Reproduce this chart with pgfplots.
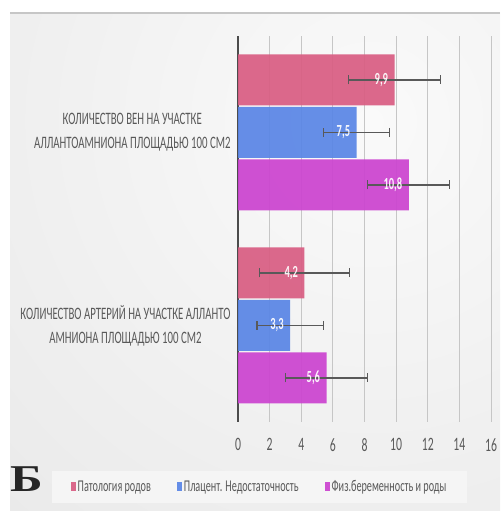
\documentclass[border=0pt]{standalone}
\usepackage{fontspec}
\setmainfont{Carlito}[FakeStretch=0.62]
\newfontfamily\bfont{Liberation Serif}[FakeStretch=1.3]
\usepackage{pgfplots}
\pgfplotsset{compat=1.18}

\definecolor{cPink}{RGB}{217,94,131}
\definecolor{cBlue}{RGB}{90,134,230}
\definecolor{cMag}{RGB}{204,68,208}
\definecolor{txt}{RGB}{89,89,89}

\pgfdeclareradialshading{bgshade}{\pgfpoint{0bp}{0bp}}{color(0bp)=(gray!4); color(14bp)=(gray!13); color(32bp)=(gray!24); color(50bp)=(gray!32)}

\pgfplotsset{
  eb/.style={error bars/.cd, x dir=both, x explicit, error mark=|,
    error bar style={line width=1.2bp, draw=black!65},
    error mark options={line width=1.2bp, mark size=4.5bp, draw=black!65}},
}

\begin{document}
\begin{tikzpicture}[x=1bp,y=1bp]
\fill[white] (0,0) rectangle (500,511);
\begin{scope}
  \clip (10,0) rectangle (500,498);
  \fill[gray!32] (10,0) rectangle (500,498);
  \shade[shading=bgshade] (370,390) circle (680);
\end{scope}
\draw[gray!45, line width=1.2] (10,498) -- (500,498);

\begin{axis}[
  at={(238bp,89bp)}, anchor=south west,
  scale only axis, width=253bp, height=386bp,
  xbar=1.5bp, bar width=51bp,
  xmin=0, xmax=16, ymin=-0.5, ymax=1.5,
  xtick={0,2,...,16},
  ytick={0,1},
  yticklabels={{КОЛИЧЕСТВО АРТЕРИЙ НА УЧАСТКЕ АЛЛАНТО\\АМНИОНА ПЛОЩАДЬЮ 100 СМ2},{КОЛИЧЕСТВО ВЕН НА УЧАСТКЕ\\АЛЛАНТОАМНИОНА ПЛОЩАДЬЮ 100 СМ2}},
  yticklabel style={align=center, font=\fontsize{17.5}{24}\selectfont, text=txt, xshift=-4bp},
  xticklabel style={font=\fontsize{19}{19}\selectfont, text=txt, yshift=-13bp},
  /pgf/number format/assume math mode=true,
  /pgf/number format/use comma,
  axis lines*=left,
  x axis line style={draw=none},
  y axis line style={draw=black!70, line width=1.5bp, -},
  major tick length=0pt,
  xmajorgrids, grid style={gray!45, line width=0.8bp},
  nodes near coords,
  every node near coord/.append style={anchor=east, xshift=-3bp, text=white,
    font=\bfseries\fontsize{17}{17}\selectfont,
    /pgf/number format/.cd, fixed, precision=1, fixed zerofill, use comma},
  legend style={at={(axis description cs:0.085,-0.168)}, anchor=center,
    fill=gray!8, draw=none, legend columns=3,
    font=\fontsize{16.5}{16.5}\selectfont, text=txt,
    /tikz/every even column/.append style={column sep=24bp},
    inner xsep=19bp, inner ysep=8bp},
  reverse legend,
  legend image code/.code={\fill[#1] (0bp,-4.5bp) rectangle (5bp,4.5bp);},
]
% order: bottom bar first
\addplot[fill=cMag, draw=none, fill opacity=0.93, eb] coordinates {
  (5.6,0) +- (2.6,0)
  (10.8,1) +- (2.6,0)
};
\addplot[fill=cBlue, draw=none, fill opacity=0.93, eb] coordinates {
  (3.3,0) +- (2.1,0)
  (7.5,1) +- (2.1,0)
};
\addplot[fill=cPink, draw=none, fill opacity=0.93, eb] coordinates {
  (4.2,0) +- (2.85,0)
  (9.9,1) +- (2.9,0)
};
\legend{Физ.беременность и роды, Плацент. Недостаточность, Патология родов}
\end{axis}

\node[anchor=base west, font=\bfont\bfseries\fontsize{38}{38}\selectfont, text=black!85, inner sep=0pt] at (10,19) {Б};
\end{tikzpicture}
\end{document}
